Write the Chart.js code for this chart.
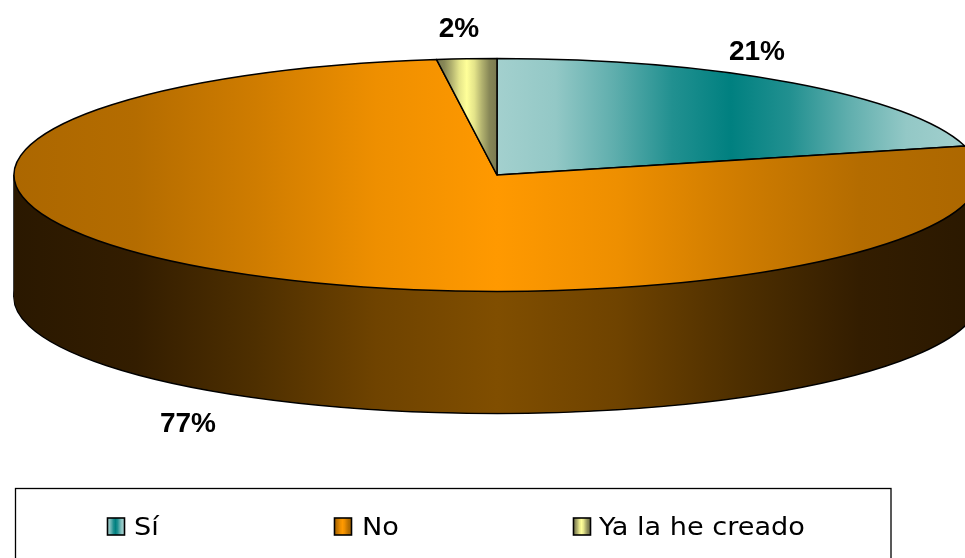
<!DOCTYPE html>
<html>
<head>
<meta charset="utf-8">
<style>html,body{margin:0;padding:0;background:#fff;overflow:hidden}canvas{display:block}</style>
<script src="https://cdn.jsdelivr.net/npm/chart.js@4"></script>
</head>
<body>
<canvas id="c" width="965" height="558"></canvas>
<script>
const categories = ['Sí', 'No', 'Ya la he creado'];
const seriesValues = [21, 77, 2];
const edgeColors = ['#A3D0CE', '#AC6700', '#7A7A50'];
const midColors = ['#008080', '#FF9900', '#FFFF99'];
const sideEdge = '#2A1800';
const sideMid = '#804E00';

const radiusX = 483, radiusY = 116.5, depth = 122;
const sx = radiusX / radiusY;
const labelSpots = [[757, 52], [188, 424], [459, 29]];
const legendBoxX = [107, 334, 573];
const legendTextX = [134, 362, 599];
const ramp = [[0, 0], [0.25, 0.1], [0.5, 0.42], [0.75, 0.8], [1, 1]];

function mix(a, b, t) {
  const p = h => [1, 3, 5].map(i => parseInt(h.substr(i, 2), 16));
  const A = p(a), B = p(b);
  return 'rgb(' + A.map((v, i) => Math.round(v + (B[i] - v) * t)).join(',') + ')';
}
function reflected(ctx, x0, x1, edge, mid) {
  const g = ctx.createLinearGradient(x0, 0, x1, 0);
  ramp.forEach(([t, v]) => {
    const c = mix(edge, mid, v);
    g.addColorStop(t / 2, c);
    g.addColorStop(1 - t / 2, c);
  });
  return g;
}
function arcExtent(el) {
  const a = el.startAngle, b = el.endAngle, R = el.outerRadius;
  let lo = Math.min(Math.cos(a), Math.cos(b), 0), hi = Math.max(Math.cos(a), Math.cos(b), 0);
  const has = t => { for (let k = -2; k <= 2; k++) { const v = t + k * 2 * Math.PI; if (v >= a && v <= b) return true; } return false; };
  if (has(0)) hi = 1;
  if (has(Math.PI)) lo = -1;
  return [el.x + lo * R, el.x + hi * R];
}
const pie3d = {
  id: 'pie3d',
  beforeDatasetDraw(chart, args) {
    const ctx = chart.ctx, els = args.meta.data, c = els[0];
    ctx.save();
    const origStroke = ctx.stroke;
    ctx.stroke = function () { ctx.save(); ctx.setTransform(1, 0, 0, 1, 0, 0); origStroke.call(ctx); ctx.restore(); };
    ctx.strokeStyle = '#000'; ctx.lineWidth = 1.5;
    ctx.beginPath();
    ctx.moveTo(c.x - radiusX, c.y); ctx.lineTo(c.x - radiusX, c.y + depth);
    ctx.moveTo(c.x + radiusX, c.y); ctx.lineTo(c.x + radiusX, c.y + depth);
    ctx.stroke();
    ctx.translate(c.x, c.y); ctx.scale(sx, 1); ctx.translate(-c.x, -c.y);
    // the wall: the largest slice, swept round the whole rim, pushed down step by step
    const big = els.reduce((m, e) => e.circumference > m.circumference ? e : m, els[0]);
    const keep = { e: big.endAngle, c: big.circumference, w: big.options.borderWidth };
    big.endAngle = big.startAngle + 2 * Math.PI;
    big.circumference = 2 * Math.PI;
    big.options.backgroundColor = reflected(ctx, c.x - radiusY, c.x + radiusY, sideEdge, sideMid);
    for (let dy = depth; dy >= 1; dy--) {
      big.options.borderWidth = dy === depth ? 1.5 : 0;
      ctx.save(); ctx.translate(0, dy); big.draw(ctx); ctx.restore();
    }
    big.endAngle = keep.e; big.circumference = keep.c; big.options.borderWidth = keep.w;
    els.forEach((el, i) => {
      const [x0, x1] = arcExtent(el);
      el.options.backgroundColor = reflected(ctx, x0, x1, edgeColors[i], midColors[i]);
    });
  },
  afterDatasetDraw(chart) {
    const ctx = chart.ctx;
    delete ctx.stroke;
    ctx.restore();
  },
  afterDraw(chart) {
    const ctx = chart.ctx, total = seriesValues.reduce((a, b) => a + b, 0);
    ctx.save();
    ctx.fillStyle = '#000'; ctx.textAlign = 'center'; ctx.textBaseline = 'middle';
    ctx.font = 'bold 28px "Liberation Sans"';
    seriesValues.forEach((v, i) => ctx.fillText(Math.round(v / total * 100) + '%', labelSpots[i][0], labelSpots[i][1]));
    // legend frame and entries
    ctx.strokeStyle = '#000'; ctx.lineWidth = 1.3;
    ctx.strokeRect(15.5, 488.5, 875.5, 80);
    ctx.textAlign = 'left'; ctx.textBaseline = 'alphabetic';
    ctx.font = '24px "DejaVu Sans"';
    categories.forEach((name, i) => {
      ctx.fillStyle = reflected(ctx, legendBoxX[i], legendBoxX[i] + 17, edgeColors[i], midColors[i]);
      ctx.fillRect(legendBoxX[i] + .5, 518, 17, 17);
      ctx.lineWidth = 1.6;
      ctx.strokeRect(legendBoxX[i] + .5, 518, 17, 17);
      ctx.fillStyle = '#000';
      ctx.save();
      ctx.translate(legendTextX[i], 535);
      ctx.scale(1.13, 1);
      ctx.fillText(name, 0, 0);
      ctx.restore();
    });
    ctx.restore();
  }
};
new Chart(document.getElementById('c'), {
  type: 'pie',
  data: {
    labels: categories,
    datasets: [{
      data: seriesValues,
      backgroundColor: midColors.slice(),
      borderColor: '#000',
      borderWidth: 1.5,
      borderJoinStyle: 'round',
      clip: false
    }]
  },
  options: {
    responsive: false,
    animation: false,
    events: [],
    radius: radiusY,
    layout: { padding: { left: 29, top: 0, bottom: 208, right: 0 } },
    plugins: { legend: { display: false }, tooltip: { enabled: false }, title: { display: false } }
  },
  plugins: [pie3d]
});
</script>
</body>
</html>
